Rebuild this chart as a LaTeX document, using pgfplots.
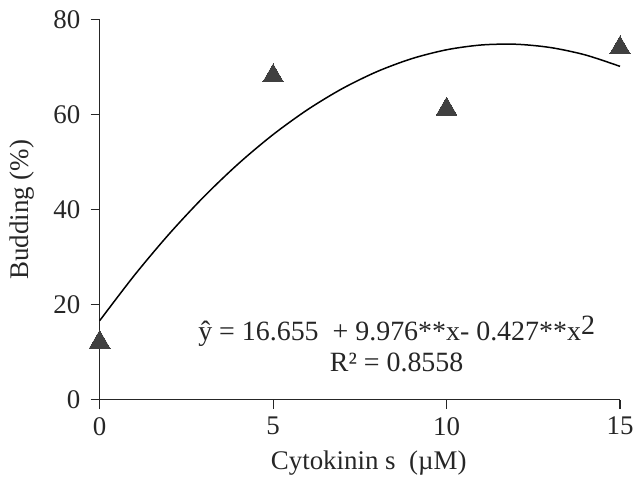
\documentclass[border=0pt]{standalone}
\usepackage{fontspec}
\setmainfont{Liberation Serif}
\usepackage{pgfplots}
\pgfplotsset{compat=1.18}

\definecolor{markgray}{HTML}{404040}

\begin{document}
\begin{tikzpicture}
\begin{axis}[
  scale only axis,
  width=522pt, height=381pt,
  at={(0,0)}, anchor=south west,
  xmin=0, xmax=15, ymin=0, ymax=80,
  axis lines*=left,
  axis line style={line width=1.1pt, black!85},
  xtick={0,5,10,15}, ytick={0,20,40,60,80},
  tick align=outside,
  major tick length=9pt,
  tick style={line width=1.1pt, black!85},
  /pgf/number format/assume math mode=true,
  tick label style={font=\fontsize{27}{32}\selectfont, text=black!85},
  yticklabel style={xshift=-7pt},
  xticklabel style={yshift=-5pt},
  label style={font=\fontsize{27}{32}\selectfont, text=black!85},
  xlabel={Cytokinin s \ (µM)},
  ylabel={Budding (\%)},
  xlabel style={at={(axis description cs:0.517,-0.168)}, anchor=center},
  ylabel style={at={(axis description cs:-0.149,0.5)}, anchor=center},
  clip=false,
]
% fitted quadratic response
\addplot[black, line width=1.5pt, smooth, no markers] coordinates {
  (0,16.655) (1,26.204) (2,34.899) (3,42.740) (4,49.727) (5,55.860)
  (6,61.139) (7,65.564) (8,69.135) (9,71.852) (10,73.715) (11,74.724)
  (12,74.879) (13,74.180) (14,72.627) (15,70.220)
};
% observed means
\addplot[only marks, mark=triangle*, mark size=12pt,
  mark options={fill=markgray, draw=markgray, line width=0pt}] coordinates {
  (0,12.1) (5,68.2) (10,61.2) (15,74.1)
};
\node[align=center, font=\fontsize{28}{31}\selectfont, text=black!85]
  at (axis cs:8.56,11.8)
  {ŷ = 16.655 \ + 9.976**x- 0.427**x\raisebox{0.45ex}{2}\\ R² = 0.8558};
\end{axis}
\pgfresetboundingbox
\path[use as bounding box] (-100pt,-86pt) rectangle (535pt,401pt);
\end{tikzpicture}
\end{document}
